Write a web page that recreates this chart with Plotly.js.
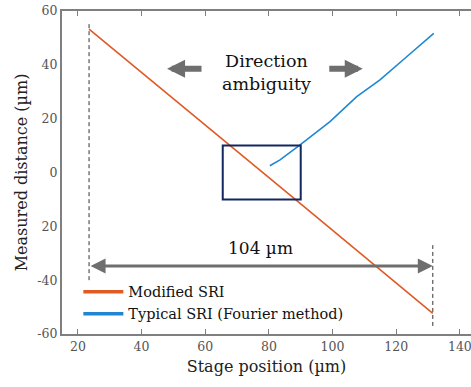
<!DOCTYPE html>
<html><head><meta charset="utf-8">
<script src="https://cdn.plot.ly/plotly-3.0.1.min.js"></script>
<style>html,body{margin:0;padding:0;background:#fff}#chart{width:471px;height:387px}</style>
</head><body><div id="chart"></div>
<script>
// Data
var modX = [23.5, 67.2, 88.2, 131.5];
var modY = [53.3, 10.4, -9.9, -52.3];
var typX = [80.3, 83.5, 89.7, 99.2, 107.6, 114.9, 123.3, 131.8];
var typY = [2.5, 4.7, 10.2, 18.9, 28.2, 34.4, 43.0, 51.7];
var seriesNames = ["Modified SRI", "Typical SRI (Fourier method)"];
var seriesColors = ["#e05a24", "#1f87d2"];
var yTickVals = [-60, -40, -20, 0, 20, 40, 60];
var yTickText = ["-60", "-40", "20", "0", "20", "40", "60"];
var xTickVals = [20, 40, 60, 80, 100, 120, 140];
var boxX = [65.5, 90];
var boxY = [-10, 10];
var guideLeft = {x: 23.5, y0: -40, y1: 56};
var guideRight = {x: 131.5, y0: -57, y1: -27};
var spanStart = 23.5, spanEnd = 131.5, spanY = -34.7, spanLabel = "104 µm";
var dirArrowY = 38.5;
var dirLeft = [59.3, 48];   // tail, tip
var dirRight = [98.5, 109.5];

var serif = "DejaVu Serif";
var gray = "#7f7f7f";

var traces = [
  {x: modX, y: modY, mode: "lines", name: seriesNames[0], showlegend: false, line: {color: seriesColors[0], width: 1.6}},
  {x: typX, y: typY, mode: "lines", name: seriesNames[1], showlegend: false, line: {color: seriesColors[1], width: 1.6}},
  // legend entries (thicker swatches as in the reference)
  {x: [null], y: [null], mode: "lines", name: seriesNames[0], line: {color: seriesColors[0], width: 3.5}},
  {x: [null], y: [null], mode: "lines", name: seriesNames[1], line: {color: seriesColors[1], width: 3.5}}
];

var layout = {
  width: 471, height: 387,
  margin: {l: 62, r: 0, t: 11, b: 53},
  paper_bgcolor: "#fff", plot_bgcolor: "#fff",
  showlegend: true,
  legend: {x: 0.04, y: 0.18, xanchor: "left", yanchor: "top", bgcolor: "rgba(0,0,0,0)",
           font: {family: serif, size: 14.5, color: "#111"}, tracegroupgap: 0, itemwidth: 40},
  xaxis: {range: [15, 143.5], tickvals: xTickVals, ticks: "inside", ticklen: 5, tickcolor: gray,
          ticklabeloverflow: "allow",
          showline: true, linecolor: gray, linewidth: 2, mirror: "ticks", showgrid: false, zeroline: false,
          tickfont: {family: serif, size: 12.5, color: "#555"},
          title: {text: "Stage position (µm)", font: {family: serif, size: 16, color: "#222"}, standoff: 8}},
  yaxis: {range: [-60, 60], tickvals: yTickVals, ticktext: yTickText, ticks: "",
          showline: true, linecolor: gray, linewidth: 2, showgrid: false, zeroline: false,
          tickfont: {family: serif, size: 12.5, color: "#555"},
          title: {text: "Measured distance (µm)", font: {family: serif, size: 16, color: "#222"}, standoff: 6}},
  shapes: [
    {type: "rect", xref: "x", yref: "y", x0: boxX[0], x1: boxX[1], y0: boxY[0], y1: boxY[1],
     line: {color: "#14265e", width: 2}},
    {type: "line", xref: "x", yref: "y", x0: guideLeft.x, x1: guideLeft.x, y0: guideLeft.y0, y1: guideLeft.y1,
     line: {color: "#333", width: 1, dash: "4px,3px"}},
    {type: "line", xref: "x", yref: "y", x0: guideRight.x, x1: guideRight.x, y0: guideRight.y0, y1: guideRight.y1,
     line: {color: "#333", width: 1, dash: "4px,3px"}}
  ],
  annotations: [
    {x: spanEnd, y: spanY, ax: spanStart, ay: spanY, xref: "x", yref: "y", axref: "x", ayref: "y",
     text: "", showarrow: true, arrowhead: 2, startarrowhead: 2, arrowside: "end+start",
     arrowsize: 1, startarrowsize: 1, arrowwidth: 3, arrowcolor: "#6e6e6e"},
    {x: (spanStart + spanEnd) / 2, y: spanY, xref: "x", yref: "y", yshift: 18, showarrow: false,
     text: spanLabel, font: {family: serif, size: 17, color: "#111"}},
    {x: dirLeft[1], y: dirArrowY, ax: dirLeft[0], ay: dirArrowY, xref: "x", yref: "y", axref: "x", ayref: "y",
     text: "", showarrow: true, arrowhead: 2, arrowsize: 0.6, arrowwidth: 6, arrowcolor: "#6e6e6e"},
    {x: dirRight[1], y: dirArrowY, ax: dirRight[0], ay: dirArrowY, xref: "x", yref: "y", axref: "x", ayref: "y",
     text: "", showarrow: true, arrowhead: 2, arrowsize: 0.6, arrowwidth: 6, arrowcolor: "#6e6e6e"},
    {x: (dirLeft[0] + dirRight[0]) / 2 + 0.5, y: dirArrowY, xref: "x", yref: "y", yshift: -4, showarrow: false,
     text: "Direction<br>ambiguity", align: "center", font: {family: serif, size: 17.5, color: "#111"}}
  ]
};
Plotly.newPlot("chart", traces, layout, {displayModeBar: false, staticPlot: true});
</script></body></html>
